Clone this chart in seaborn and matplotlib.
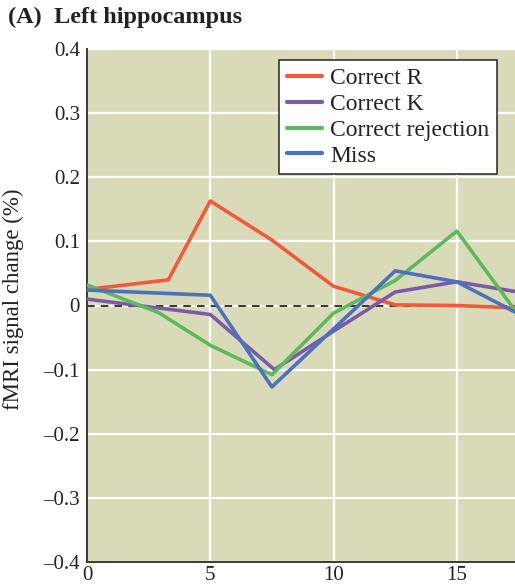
import numpy as np
import pandas as pd
import matplotlib
matplotlib.use("Agg")
import matplotlib.pyplot as plt
import seaborn as sns

# Event-related fMRI time courses, left hippocampus
series_names = ["Correct R", "Correct K", "Correct rejection", "Miss"]

r_time = [0, 3.3, 5, 7.5, 10, 12.5, 15, 17.5]
r_signal = [0.025, 0.040, 0.163, 0.102, 0.030, 0.001, 0.000, -0.004]

k_time = [0, 5, 7.6, 10, 12.5, 15, 17.5]
k_signal = [0.010, -0.014, -0.100, -0.040, 0.021, 0.037, 0.021]

cr_time = [0, 2.9, 5, 7.5, 10, 12.5, 15, 17.5]
cr_signal = [0.032, -0.011, -0.062, -0.108, -0.012, 0.039, 0.116, -0.015]

miss_time = [0, 5, 7.5, 12.5, 15, 17.5]
miss_signal = [0.024, 0.016, -0.127, 0.054, 0.037, -0.013]

x_ticks = [0, 5, 10, 15]
y_ticks = [-0.4, -0.3, -0.2, -0.1, 0, 0.1, 0.2, 0.3, 0.4]
y_tick_labels = ["\u20130.4", "\u20130.3", "\u20130.2", "\u20130.1", "0", "0.1", "0.2", "0.3", "0.4"]

frames = []
for name, t, s in zip(series_names,
                      [r_time, k_time, cr_time, miss_time],
                      [r_signal, k_signal, cr_signal, miss_signal]):
    frames.append(pd.DataFrame({"condition": name, "time": t, "signal": s}))
df = pd.concat(frames, ignore_index=True)

palette = {
    "Correct R": "#f25a3d",
    "Correct K": "#7d5aa9",
    "Correct rejection": "#5dba5c",
    "Miss": "#4a72c0",
}

sns.set_theme(style="white")
serif = ["Liberation Serif", "DejaVu Serif"]
plt.rcParams["font.family"] = serif
plt.rcParams["font.serif"] = serif

fig = plt.figure(figsize=(5.15, 5.87), dpi=100)
ax = fig.add_axes([87 / 515, 25 / 587, (515 - 87) / 515, (562 - 49) / 587])
ax.set_facecolor("#d9dab7")

for y in y_ticks:
    ax.axhline(y, color="white", lw=1.6, zorder=0)
for x in x_ticks[1:]:
    ax.axvline(x, color="white", lw=1.6, zorder=0)

ax.axhline(0, color="black", lw=1.1, ls=(0, (5, 4)), zorder=1)

sns.lineplot(data=df, x="time", y="signal", hue="condition", hue_order=series_names,
             palette=palette, lw=2.6, ax=ax, sort=False, estimator=None, zorder=3)

ax.set_xlim(0, 17.36)
ax.set_ylim(-0.4, 0.4)
ax.set_xticks(x_ticks)
ax.set_xticklabels([str(v) for v in x_ticks], family=serif)
ax.set_yticks(y_ticks)
ax.set_yticklabels(y_tick_labels, family=serif)
ax.tick_params(axis="both", direction="in", length=9, width=1.3, color="#3a3a3a",
               labelsize=15, labelcolor="#222222")
ax.tick_params(axis="x", pad=3)
ax.tick_params(axis="y", pad=5)

for side in ["top", "right"]:
    ax.spines[side].set_visible(False)
for side in ["left", "bottom"]:
    ax.spines[side].set_color("#3a3a3a")
    ax.spines[side].set_linewidth(1.4)

ax.set_xlabel("")
ax.set_ylabel("")
fig.text(13 / 515, 1 - 299 / 587, "fMRI signal change (%)", fontsize=16.5, color="#222222",
         rotation=90, ha="center", va="center", family=serif)

leg = ax.legend(loc="upper right", bbox_to_anchor=(0.958, 0.978), borderaxespad=0,
                prop={"family": serif, "size": 17}, frameon=True, fancybox=False,
                framealpha=1, edgecolor="#333333", handlelength=1.5, handletextpad=0.35,
                labelspacing=0.18, borderpad=0.32)
leg.get_frame().set_linewidth(1.2)
for line in leg.get_lines():
    line.set_linewidth(3.0)
for txt in leg.get_texts():
    txt.set_color("#222222")

fig.text(8 / 515, 1 - 17 / 587, "(A)  Left hippocampus", fontsize=17.5, fontweight="bold",
         color="#222222", ha="left", va="center", family=serif)

fig.savefig("out.png", dpi=100)
